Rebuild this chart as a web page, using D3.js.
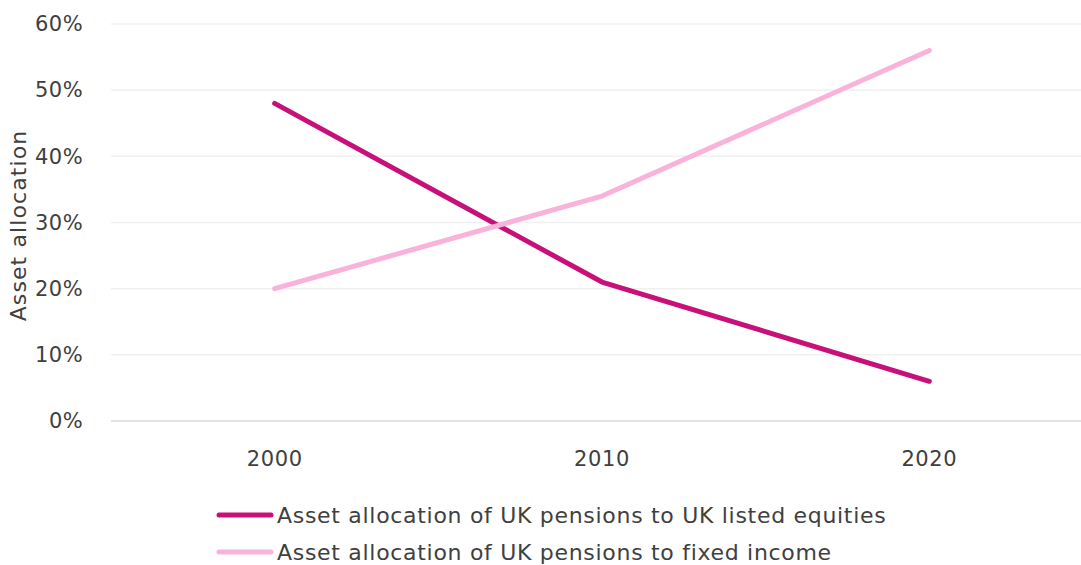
<!DOCTYPE html>
<html>
<head>
<meta charset="utf-8">
<script src="https://cdn.jsdelivr.net/npm/d3@7"></script>
<style>
  body { margin: 0; background: #fff; }
  svg text { font-family: "DejaVu Sans", sans-serif; fill: #404040; }
</style>
</head>
<body>
<div id="chart"></div>
<script>
// data
var years = ["2000", "2010", "2020"];
var equities = [48, 21, 6];
var fixedIncome = [20, 34, 56];
var seriesNames = ["Asset allocation of UK pensions to UK listed equities",
                   "Asset allocation of UK pensions to fixed income"];
var seriesColors = ["#c8107b", "#f9b2d9"];
var yTicks = [0, 10, 20, 30, 40, 50, 60];

var width = 1081, height = 565;
var margin = {top: 24, right: 0, bottom: 144, left: 111};
var innerW = width - margin.left - margin.right,
    innerH = height - margin.top - margin.bottom;

var svg = d3.select("#chart").append("svg")
    .attr("width", width)
    .attr("height", height);

var g = svg.append("g")
    .attr("transform", "translate(" + margin.left + "," + margin.top + ")");

// the category bands run a little past the right edge in the original
var x = d3.scaleBand().domain(years).range([0, 982]);
var y = d3.scaleLinear().domain([0, 60]).range([innerH, 0]);

// gridlines
g.selectAll("line.grid")
    .data(yTicks)
    .enter().append("line")
    .attr("class", "grid")
    .attr("x1", 0).attr("x2", innerW)
    .attr("y1", function(d) { return y(d); })
    .attr("y2", function(d) { return y(d); })
    .attr("stroke", function(d) { return d === 0 ? "#d9d9d9" : "#f0f0f0"; })
    .attr("stroke-width", 1.5);

// y axis labels
var yAxis = g.append("g")
    .call(d3.axisLeft(y).tickValues(yTicks).tickSize(0).tickPadding(28)
        .tickFormat(function(d) { return d + "%"; }));
yAxis.select(".domain").remove();
yAxis.selectAll("text").attr("font-size", 21).attr("letter-spacing", 0.4).style("font-family", null);

// x axis labels
var xAxis = g.append("g")
    .attr("transform", "translate(0," + innerH + ")")
    .call(d3.axisBottom(x).tickSize(0).tickPadding(30));
xAxis.select(".domain").remove();
xAxis.selectAll("text").attr("font-size", 21).attr("letter-spacing", 0.6).style("font-family", null);

// y axis title
svg.append("text")
    .attr("transform", "translate(26," + (margin.top + innerH / 2 + 3) + ") rotate(-90)")
    .attr("text-anchor", "middle")
    .attr("font-size", 22)
    .attr("letter-spacing", 1.1)
    .text("Asset allocation");

var line = d3.line()
    .x(function(d, i) { return x(years[i]) + x.bandwidth() / 2; })
    .y(function(d) { return y(d); });

[equities, fixedIncome].forEach(function(vals, i) {
  g.append("path")
      .datum(vals)
      .attr("fill", "none")
      .attr("stroke", seriesColors[i])
      .attr("stroke-width", 5)
      .attr("stroke-linecap", "round")
      .attr("stroke-linejoin", "round")
      .attr("d", line);
});

// legend
var legend = svg.append("g").attr("transform", "translate(217,515)");
seriesNames.forEach(function(name, i) {
  var row = legend.append("g").attr("transform", "translate(0," + (i * 37) + ")");
  row.append("line")
      .attr("x1", 2).attr("x2", 54)
      .attr("y1", 0).attr("y2", 0)
      .attr("stroke", seriesColors[i])
      .attr("stroke-width", 5)
      .attr("stroke-linecap", "round");
  row.append("text")
      .attr("x", 60)
      .attr("dy", "0.35em")
      .attr("font-size", 22)
      .attr("letter-spacing", 0.7)
      .text(name);
});
</script>
</body>
</html>
